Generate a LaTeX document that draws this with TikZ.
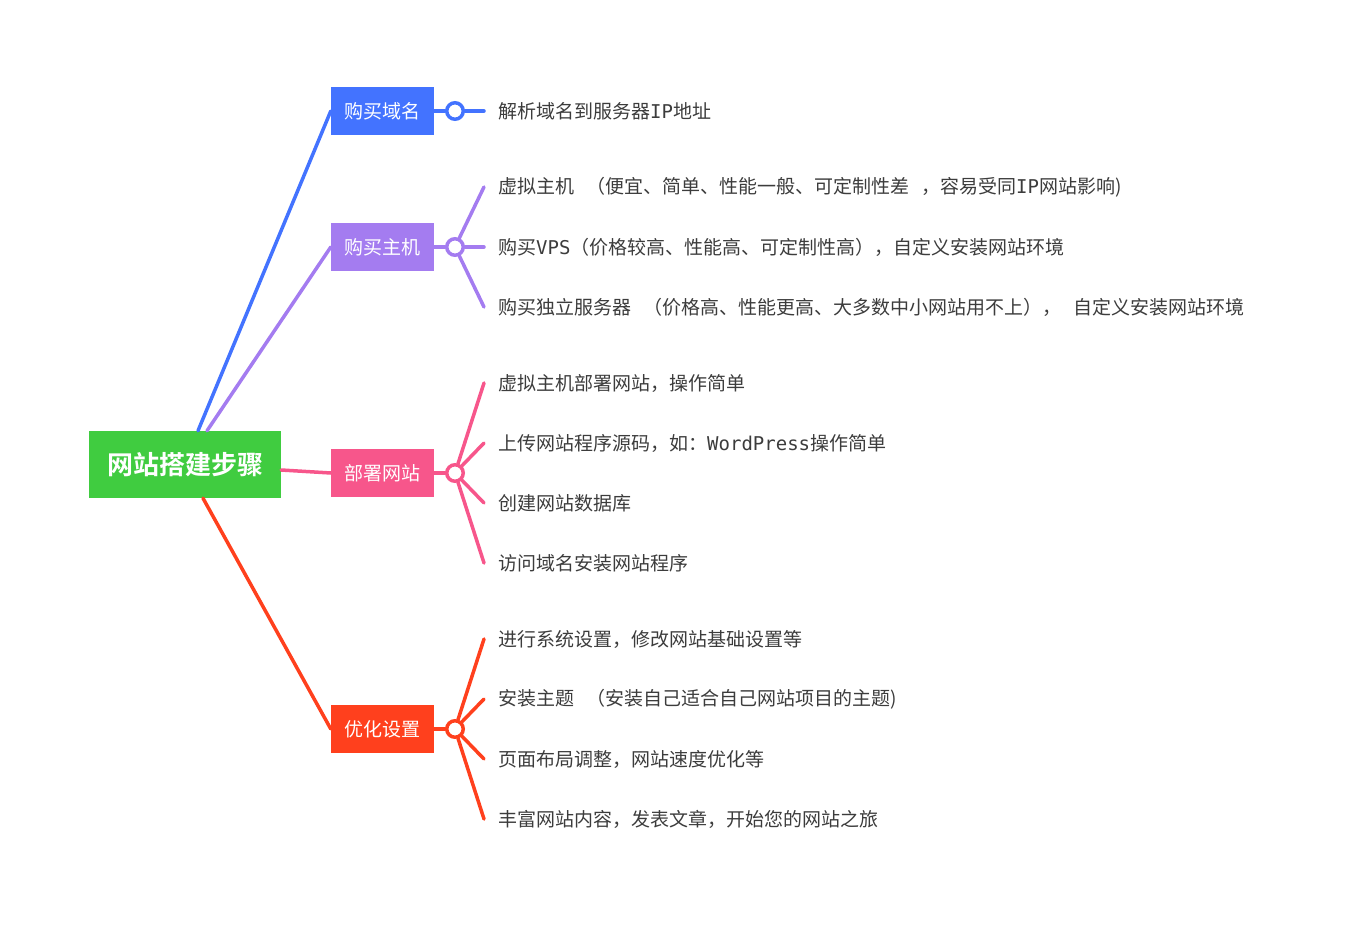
\documentclass[tikz,border=0pt]{standalone}
\usepackage{fontspec}
\setmainfont{Noto Sans CJK SC}[BoldFont={Noto Sans CJK SC Bold}]
\newfontfamily\latinmono{DejaVu Sans Mono}
\newcommand{\mono}[1]{{\latinmono #1}}
\newcommand{\gap}{\hspace{12pt}}

\definecolor{rootgreen}{RGB}{64,204,64}
\definecolor{domainblue}{RGB}{67,115,255}
\definecolor{hostpurple}{RGB}{164,124,240}
\definecolor{deploypink}{RGB}{247,86,139}
\definecolor{tunered}{RGB}{255,64,29}
\definecolor{leafgray}{RGB}{60,60,60}

\tikzset{
  rootbox/.style={fill=rootgreen, text=white, font=\fontsize{26}{26}\selectfont\bfseries,
    minimum width=192, minimum height=67, inner sep=0},
  topicbox/.style={text=white, font=\fontsize{19}{19}\selectfont,
    minimum width=103, minimum height=48, inner sep=0},
  knot/.style={circle, fill=white, line width=3.5, minimum size=16.5, inner sep=0},
  leaf/.style={anchor=west, text=leafgray, font=\fontsize{19}{19}\selectfont, inner sep=0},
  link/.style={line width=3.5, line cap=round},
}

\begin{document}
\begin{tikzpicture}[x=1pt, y=-1pt]
\useasboundingbox (0,0) rectangle (1350,950);

% Root and the four topics
\node[rootbox] (root) at (185,464.5) {网站搭建步骤};
\node[topicbox, fill=domainblue] (domain) at (382.5,111) {购买域名};
\node[topicbox, fill=hostpurple] (host) at (382.5,247) {购买主机};
\node[topicbox, fill=deploypink] (deploy) at (382.5,473) {部署网站};
\node[topicbox, fill=tunered] (tune) at (382.5,729) {优化设置};

% Root to topics
\draw[link, domainblue] ([xshift=13]root.north) -- (domain.west);
\draw[link, hostpurple] ([xshift=22]root.north) -- (host.west);
\draw[link, deploypink] ([yshift=-5.5]root.east) -- (deploy.west);
\draw[link, tunered] ([xshift=18]root.south) -- (tune.west);

% Knots after each topic
\node[knot, draw=domainblue] (kdomain) at (455,111) {};
\node[knot, draw=hostpurple] (khost) at (455,247) {};
\node[knot, draw=deploypink] (kdeploy) at (455,473) {};
\node[knot, draw=tunered] (ktune) at (455,729) {};
\draw[link, domainblue] (domain.east) -- (kdomain);
\draw[link, hostpurple] (host.east) -- (khost);
\draw[link, deploypink] (deploy.east) -- (kdeploy);
\draw[link, tunered] (tune.east) -- (ktune);

% 购买域名
\coordinate (d1) at (484,111);
\node[leaf] (dl1) at (498,111) {解析域名到服务器\mono{IP}地址};
\draw[link, domainblue] (kdomain) -- (d1);

% 购买主机
\coordinate (h1) at (484,187);
\coordinate (h2) at (484,247);
\coordinate (h3) at (484,307);
\node[leaf] (hl1) at (498,187) {虚拟主机\gap（便宜、简单、性能一般、可定制性差\gap，容易受同\mono{IP}网站影响)};
\node[leaf] (hl2) at (498,247) {购买\mono{VPS}（价格较高、性能高、可定制性高），自定义安装网站环境};
\node[leaf] (hl3) at (498,307) {购买独立服务器\gap（价格高、性能更高、大多数中小网站用不上），\gap 自定义安装网站环境};
\draw[link, hostpurple] (khost) -- (h1);
\draw[link, hostpurple] (khost) -- (h2);
\draw[link, hostpurple] (khost) -- (h3);

% 部署网站
\coordinate (p1) at (484,383);
\coordinate (p2) at (484,443);
\coordinate (p3) at (484,503);
\coordinate (p4) at (484,563);
\node[leaf] (pl1) at (498,383) {虚拟主机部署网站，操作简单};
\node[leaf] (pl2) at (498,443) {上传网站程序源码，如：\mono{WordPress}操作简单};
\node[leaf] (pl3) at (498,503) {创建网站数据库};
\node[leaf] (pl4) at (498,563) {访问域名安装网站程序};
\draw[link, deploypink] (kdeploy) -- (p1);
\draw[link, deploypink] (kdeploy) -- (p2);
\draw[link, deploypink] (kdeploy) -- (p3);
\draw[link, deploypink] (kdeploy) -- (p4);

% 优化设置
\coordinate (t1) at (484,639);
\coordinate (t2) at (484,699);
\coordinate (t3) at (484,759);
\coordinate (t4) at (484,819);
\node[leaf] (tl1) at (498,639) {进行系统设置，修改网站基础设置等};
\node[leaf] (tl2) at (498,699) {安装主题\gap（安装自己适合自己网站项目的主题)};
\node[leaf] (tl3) at (498,759) {页面布局调整，网站速度优化等};
\node[leaf] (tl4) at (498,819) {丰富网站内容，发表文章，开始您的网站之旅};
\draw[link, tunered] (ktune) -- (t1);
\draw[link, tunered] (ktune) -- (t2);
\draw[link, tunered] (ktune) -- (t3);
\draw[link, tunered] (ktune) -- (t4);
\end{tikzpicture}
\end{document}
